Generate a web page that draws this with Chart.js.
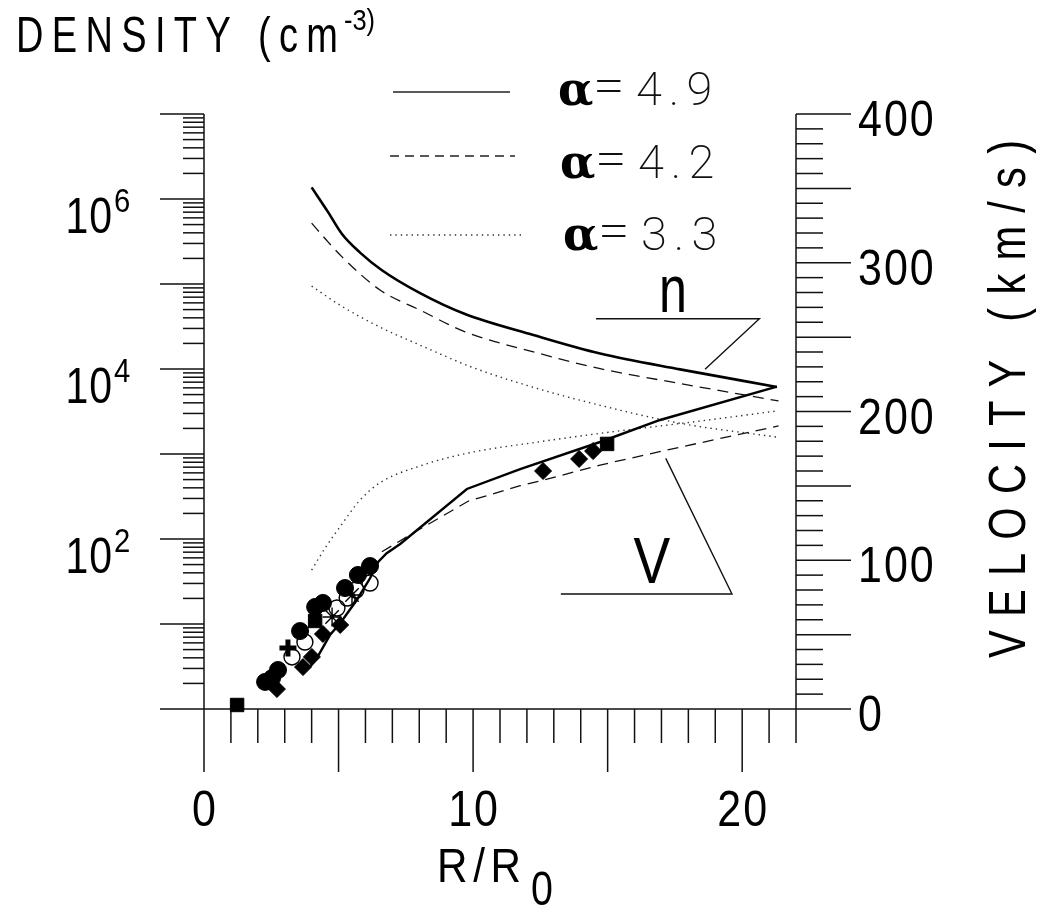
<!DOCTYPE html>
<html>
<head>
<meta charset="utf-8">
<script src="https://cdn.jsdelivr.net/npm/chart.js@4.4.1/dist/chart.umd.min.js"></script>
<style>
html,body{margin:0;padding:0;background:#fff;}
#wrap{width:1040px;height:909px;position:relative;}
</style>
</head>
<body>
<div id="wrap"><canvas id="c" width="1040" height="909"></canvas></div>
<script>
// ---------- DATA ----------
// x axis: R/R0, left axis: density (cm^-3, log), right axis: velocity (km/s)
const X_MIN = 0, X_MAX = 22;
const N_MIN = 1, N_MAX = 1e7;
const V_MIN = 0, V_MAX = 400;

const xTickLabels = [0, 10, 20];
const vTickLabels = [0, 100, 200, 300, 400];
const nTickExponents = [2, 4, 6];
const legendLabels = ['4.9', '4.2', '3.3'];

// density curves
const rN49 = [4.0, 4.6, 5.12, 5.8, 6.6, 8.03, 9.7, 12.24, 14.72, 17.69, 21.29];
const dens49 = [1.37e6, 7.1e5, 3.9e5, 2.34e5, 1.46e5, 7.8e4, 4.43e4, 2.51e4, 1.52e4, 9.9e3, 6.15e3];
const rN42 = [4.0, 4.6, 5.12, 6.54, 8.03, 9.7, 12.24, 14.72, 17.69, 21.35];
const dens42 = [5.2e5, 3.15e5, 2.1e5, 8.5e4, 4.93e4, 2.74e4, 1.59e4, 1.01e4, 6.75e3, 4.21e3];
const rN33 = [4.0, 5.05, 6.54, 8.03, 9.96, 12.23, 14.72, 17.69, 21.35];
const dens33 = [9.46e4, 5.65e4, 3.11e4, 1.91e4, 1.05e4, 6.1e3, 3.74e3, 2.3e3, 1.57e3];

// velocity curves
const rV49 = [3.94, 4.19, 4.68, 5.06, 5.68, 6.17, 6.48, 6.79, 7.29, 9.77, 11.75, 14.72, 16.95, 21.29];
const vel49 = [28.4, 34.1, 49.7, 57.6, 73.3, 87.9, 99.0, 104.7, 110.9, 147.9, 161.3, 179.5, 194.3, 216.7];
const rV42 = [6.61, 7.77, 9.83, 11.75, 12.49, 14.72, 17.2, 21.35];
const vel42 = [105.7, 118.3, 139.8, 150.1, 153.3, 164.0, 174.1, 190.3];
const rV33 = [4.0, 4.5, 5.06, 5.8, 6.54, 8.03, 9.77, 12.49, 14.72, 18.44, 21.35];
const vel33 = [93.4, 108.2, 122.6, 140.5, 152.1, 163.4, 171.9, 179.7, 185.3, 193.6, 200.5];

// observed velocities (markers)
const obsCircleR = [2.27, 2.53, 2.75, 3.57, 4.13, 4.42, 5.24, 5.72, 6.17];
const obsCircleV = [18.2, 20.8, 26.2, 52.4, 68.6, 71.3, 81.3, 90.1, 96.1];
const obsOpenR = [3.27, 3.75, 4.94, 5.32, 5.65, 6.17];
const obsOpenV = [35.0, 45.0, 67.9, 74.6, 80.0, 84.7];
const obsSquareR = [1.23, 4.13, 14.98];
const obsSquareV = [2.7, 59.2, 178.2];
const obsDiamondR = [2.71, 3.68, 4.01, 4.42, 5.06, 12.6, 13.94, 14.46];
const obsDiamondV = [13.4, 28.2, 35.0, 50.4, 56.5, 160.0, 168.1, 173.4];
const obsStarR = [4.76, 5.50];
const obsStarV = [61.8, 76.6];
const obsCrossR = [3.12];
const obsCrossV = [41.0];

// callout labels (data coordinates: R/R0, velocity)
const calloutN = [[14.57, 262.4], [20.64, 262.4], [18.62, 228.4]];
const calloutV = [[13.26, 77.3], [19.62, 77.3], [17.16, 168.5]];
const calloutNText = [17.43, 266.9];
const calloutVText = [16.64, 84.5];

// ---------- helpers ----------
const pts = (xs, ys) => xs.map((x, i) => ({x: x, y: ys[i]}));
const SANS = '"Liberation Sans", Arial, sans-serif';
const THIN = 'Roboto, Lato, Inter, sans-serif';

function textWidths(ctx, text, sx) {
  return [...text].map(ch => ctx.measureText(ch).width * sx);
}
function drawSpaced(ctx, text, x, y, font, sx, extra, align) {
  ctx.font = font;
  const ws = textWidths(ctx, text, sx);
  const total = ws.reduce((a, b) => a + b, 0) + extra * (ws.length - 1);
  let cx = align === 'center' ? x - total / 2 : (align === 'right' ? x - total : x);
  [...text].forEach((ch, i) => {
    ctx.save(); ctx.translate(cx, y); ctx.scale(sx, 1);
    ctx.textAlign = 'left'; ctx.textBaseline = 'alphabetic';
    ctx.fillText(ch, 0, 0); ctx.restore();
    cx += ws[i] + extra;
  });
  return total;
}
function drawFit(ctx, text, x0, x1, y, font, sx) {
  ctx.font = font;
  const ws = textWidths(ctx, text, sx);
  const sum = ws.reduce((a, b) => a + b, 0);
  const extra = (x1 - x0 - sum) / (ws.length - 1);
  drawSpaced(ctx, text, x0, y, font, sx, extra, 'left');
}
function line(ctx, x1, y1, x2, y2) {
  ctx.beginPath(); ctx.moveTo(x1, y1); ctx.lineTo(x2, y2); ctx.stroke();
}

const decor = {
  id: 'decor',
  beforeDatasetsDraw(chart) {
    const ctx = chart.ctx;
    const sx = chart.scales.x, sn = chart.scales.yN, sv = chart.scales.yV;
    const L = sx.getPixelForValue(X_MIN), R = sx.getPixelForValue(X_MAX);
    const B = sv.getPixelForValue(V_MIN), T = sv.getPixelForValue(V_MAX);
    ctx.save();
    ctx.strokeStyle = '#111';
    ctx.lineWidth = 1.5;
    line(ctx, L, T, L, B);
    line(ctx, L, B, R, B);
    line(ctx, R, T, R, B);
    for (let e = 0; e <= 7; e++) {
      const y = sn.getPixelForValue(Math.pow(10, e));
      line(ctx, L - 44, y, L, y);
      if (e < 7) {
        for (let m = 2; m <= 9; m++) {
          const ym = sn.getPixelForValue(m * Math.pow(10, e));
          line(ctx, L - 21, ym, L, ym);
        }
      }
    }
    for (let i = X_MIN; i <= X_MAX; i++) {
      const x = sx.getPixelForValue(i);
      line(ctx, x, B, x, B + (i % 5 === 0 ? 63 : 34));
    }
    for (let v = V_MIN; v <= V_MAX; v += 10) {
      const y = sv.getPixelForValue(v);
      line(ctx, R, y, R + (v % 50 === 0 ? 55 : 27), y);
    }
    ctx.restore();
  },
  afterDatasetsDraw(chart) {
    const ctx = chart.ctx;
    const sx = chart.scales.x, sn = chart.scales.yN, sv = chart.scales.yV;
    const L = sx.getPixelForValue(X_MIN), R = sx.getPixelForValue(X_MAX);
    const B = sv.getPixelForValue(V_MIN);
    ctx.save();
    ctx.fillStyle = '#000';
    xTickLabels.forEach(v => {
      drawSpaced(ctx, String(v), sx.getPixelForValue(v), B + 117, '50px ' + SANS, 0.86, 2, 'center');
    });
    vTickLabels.forEach(v => {
      drawSpaced(ctx, String(v), R + 62, sv.getPixelForValue(v) + 22, '50px ' + SANS, 0.86, 2, 'left');
    });
    nTickExponents.forEach(e => {
      const y = sn.getPixelForValue(Math.pow(10, e));
      drawSpaced(ctx, '10', L - 92, y + 34, '50px ' + SANS, 0.82, 1, 'right');
      drawSpaced(ctx, String(e), L - 90, y + 13, '34px ' + SANS, 0.86, 0, 'left');
    });
    // title
    drawFit(ctx, 'DENSITY (cm', 16, 338, 52, '50px ' + SANS, 0.76);
    drawFit(ctx, '-3)', 344, 375, 30, '30px ' + SANS, 0.85);
    // velocity label (rotated)
    ctx.save();
    ctx.translate(1025, 399);
    ctx.rotate(-Math.PI / 2);
    drawFit(ctx, 'VELOCITY (km/s)', -259, 259, 0, '52px ' + SANS, 0.8);
    ctx.restore();
    // x label
    drawFit(ctx, 'R/R', 437, 521, 882, '48px ' + SANS, 0.88);
    drawSpaced(ctx, '0', 531, 905, '48px ' + SANS, 0.82, 0, 'left');

    // callouts
    ctx.strokeStyle = '#111';
    ctx.lineWidth = 1.4;
    [calloutN, calloutV].forEach(c => {
      ctx.beginPath();
      c.forEach((p, i) => {
        const px = sx.getPixelForValue(p[0]), py = sv.getPixelForValue(p[1]);
        if (i === 0) ctx.moveTo(px, py); else ctx.lineTo(px, py);
      });
      ctx.stroke();
    });
    drawSpaced(ctx, 'n', sx.getPixelForValue(calloutNText[0]), sv.getPixelForValue(calloutNText[1]), '67px ' + SANS, 0.75, 0, 'center');
    drawSpaced(ctx, 'V', sx.getPixelForValue(calloutVText[0]), sv.getPixelForValue(calloutVText[1]), '64px ' + SANS, 0.86, 0, 'center');

    // legend
    const rows = [
      {y: 92, x0: 393, x1: 510, dash: [], w: 1.5, c: '#222', tx: 558, base: 105},
      {y: 156, x0: 390, x1: 515, dash: [9, 6], w: 1.3, c: '#222', tx: 560, base: 178},
      {y: 235, x0: 390, x1: 523, dash: [1.4, 4], w: 1.4, c: '#333', tx: 563, base: 250}
    ];
    rows.forEach((r, i) => {
      ctx.save();
      ctx.strokeStyle = r.c; ctx.lineWidth = r.w; ctx.setLineDash(r.dash);
      line(ctx, r.x0, r.y, r.x1, r.y);
      ctx.restore();
      ctx.fillStyle = '#000';
      ctx.font = 'bold 46px "DejaVu Serif", "Liberation Serif", serif';
      ctx.textAlign = 'left'; ctx.textBaseline = 'alphabetic';
      ctx.fillText('α', r.tx, r.base);
      ctx.fillStyle = '#111';
      drawSpaced(ctx, '=', r.tx + 35, r.base - 2, '200 52px ' + THIN, 1.1, 0, 'left');
      drawSpaced(ctx, legendLabels[i], r.tx + 78, r.base, '200 47px ' + THIN, 1.0, 7, 'left');
    });
    ctx.restore();
  }
};

const lineDs = (xs, ys, axis, dash, width, color, tension) => ({
  data: pts(xs, ys), yAxisID: axis, showLine: true, pointRadius: 0,
  borderColor: color, borderWidth: width, borderDash: dash,
  tension: tension, cubicInterpolationMode: tension > 0 ? 'monotone' : 'default',
  fill: false, clip: false
});
const markDs = (xs, ys, style, r, filled, bw) => ({
  data: pts(xs, ys), yAxisID: 'yV', showLine: false,
  pointStyle: style, pointRadius: r, pointHoverRadius: r,
  pointBackgroundColor: filled ? '#000' : 'rgba(255,255,255,0)',
  pointBorderColor: '#000', pointBorderWidth: bw, clip: false
});

const DOT = [1.4, 4];
const datasets = [
  lineDs(rN49, dens49, 'yN', [], 2.6, '#000', 0.4),
  lineDs(rN42, dens42, 'yN', [11, 7], 1.3, '#111', 0.4),
  lineDs(rN33, dens33, 'yN', DOT, 1.4, '#333', 0.4),
  lineDs(rV49, vel49, 'yV', [], 2.4, '#000', 0),
  lineDs(rV42, vel42, 'yV', [11, 7], 1.3, '#111', 0),
  lineDs(rV33, vel33, 'yV', DOT, 1.4, '#333', 0.4),
  markDs(obsOpenR, obsOpenV, 'circle', 8, false, 1.4),
  markDs(obsCircleR, obsCircleV, 'circle', 8.5, true, 1),
  markDs(obsSquareR, obsSquareV, 'rect', 9.5, true, 1),
  markDs(obsDiamondR, obsDiamondV, 'rectRot', 8.5, true, 1),
  markDs(obsStarR, obsStarV, 'star', 9.5, false, 1.4),
  markDs(obsCrossR, obsCrossV, 'cross', 8.5, false, 5)
];

new Chart(document.getElementById('c'), {
  type: 'scatter',
  data: { datasets: datasets },
  options: {
    responsive: false,
    animation: false,
    devicePixelRatio: 1,
    layout: { padding: { left: 204, right: 244, top: 114, bottom: 200 } },
    plugins: { legend: { display: false }, tooltip: { enabled: false } },
    events: [],
    scales: {
      x: { type: 'linear', min: X_MIN, max: X_MAX, display: false },
      yN: { type: 'logarithmic', min: N_MIN, max: N_MAX, display: false, position: 'left' },
      yV: { type: 'linear', min: V_MIN, max: V_MAX, display: false, position: 'right' }
    }
  },
  plugins: [decor]
});
</script>
</body>
</html>
